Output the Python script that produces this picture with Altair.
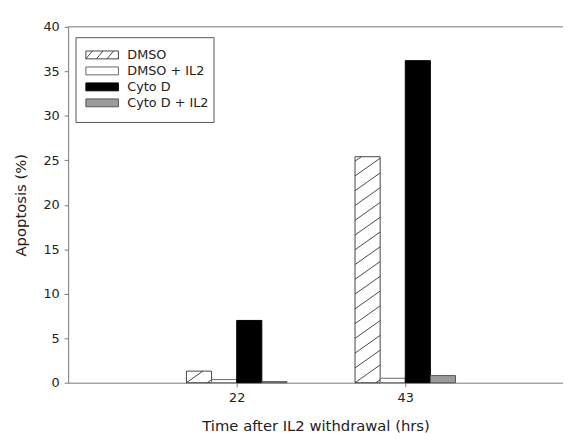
import altair as alt
import numpy as np
import pandas as pd

# ---------------- data ----------------
times = [22, 43]
series = ["DMSO", "DMSO + IL2", "Cyto D", "Cyto D + IL2"]
dmso = [1.3, 25.4]
dmso_il2 = [0.35, 0.5]
cytod = [7.0, 36.2]
cytod_il2 = [0.12, 0.8]

fills = ["#ffffff", "#ffffff", "#000000", "#9b9b9b"]
strokes = ["#444444", "#666666", "#000000", "#555555"]

x_title = "Time after IL2 withdrawal (hrs)"
y_title = "Apoptosis (%)"
y_ticks = [0, 5, 10, 15, 20, 25, 30, 35, 40]

# ---------------- style / layout ----------------
W, H = 502, 361
FONT = "DejaVu Sans"
BW = 3.13            # bar width in hours
HATCH_RISE = 2.0     # rise of a hatch line across one bar (in % units)
HATCH_STEP = 1.66    # vertical distance between hatch lines (in % units)


def hatch(x0, x1, y0, y1, rise, step):
    """Diagonal hatch segments clipped to the rectangle [x0,x1]x[y0,y1]."""
    segs = []
    k_lo = int(np.ceil(-rise / step))
    k_hi = int(np.floor((y1 - y0) / step))
    for k in range(k_lo, k_hi + 1):
        b = y0 + k * step
        t_lo = max(0.0, (y0 - b) / rise)
        t_hi = min(1.0, (y1 - b) / rise)
        if t_hi > t_lo:
            segs.append((x0 + t_lo * (x1 - x0), b + rise * t_lo,
                         x0 + t_hi * (x1 - x0), b + rise * t_hi))
    return segs


# bars table
rows = []
for si, (name, vals) in enumerate(zip(series, [dmso, dmso_il2, cytod, cytod_il2])):
    for t, v in zip(times, vals):
        x0 = t + (si - 2) * BW
        rows.append({"time": t, "series": name, "value": v, "x0": x0, "x1": x0 + BW})
bars_df = pd.DataFrame(rows)

# hatch for DMSO bars
hrows = []
for t, v in zip(times, dmso):
    x0 = t - 2 * BW
    for (a, b, c, d) in hatch(x0, x0 + BW, 0.0, v, HATCH_RISE, HATCH_STEP):
        hrows.append({"hx0": a, "hy0": b, "hx1": c, "hy1": d})
hatch_df = pd.DataFrame(hrows)

# manual legend (pixel positions inside the plot area)
LEG_X0, LEG_X1, LEG_Y0, LEG_Y1 = 8, 148, 11, 97
SYM_X0, SYM_X1, SYM_H = 18, 51, 8
ROW0, ROW_STEP = 28.5, 16.2
TXT_X = 60
leg_rows = []
for i, name in enumerate(series):
    c = ROW0 + i * ROW_STEP
    leg_rows.append({"series": name, "lx0": SYM_X0, "lx1": SYM_X1,
                     "ly0": c - SYM_H / 2, "ly1": c + SYM_H / 2, "lyc": c})
leg_df = pd.DataFrame(leg_rows)

lh_rows = []
c0 = leg_df.loc[0]
for (a, b, c, d) in hatch(SYM_X0, SYM_X1, -c0["ly1"], -c0["ly0"], 40.0, 13.0):
    lh_rows.append({"hx0": a, "hy0": -b, "hx1": c, "hy1": -d})
leg_hatch_df = pd.DataFrame(lh_rows)

one = pd.DataFrame({"k": [0]})

# ---------------- scales ----------------
xs = alt.Scale(domain=[1, 62.65], nice=False, zero=False)
ys = alt.Scale(domain=[0, 40], nice=False)
fill_scale = alt.Scale(domain=series, range=fills)
stroke_scale = alt.Scale(domain=series, range=strokes)

bars = alt.Chart(bars_df).mark_rect(strokeWidth=1).encode(
    x=alt.X("x0:Q", scale=xs,
            axis=alt.Axis(values=times, title=x_title, labelPadding=5, titlePadding=14)),
    x2="x1:Q",
    y=alt.Y("value:Q", scale=ys,
            axis=alt.Axis(values=y_ticks, title=y_title, labelPadding=5, titlePadding=15)),
    y2=alt.datum(0),
    fill=alt.Fill("series:N", scale=fill_scale, legend=None),
    stroke=alt.Stroke("series:N", scale=stroke_scale, legend=None),
)

hatch_lines = alt.Chart(hatch_df).mark_rule(color="#333333", strokeWidth=0.9).encode(
    x=alt.X("hx0:Q", scale=xs), x2="hx1:Q",
    y=alt.Y("hy0:Q", scale=ys), y2="hy1:Q",
)

top_line = alt.Chart(one).mark_rule(color="#777777", strokeWidth=1).encode(
    x=alt.value(0), x2=alt.value(W), y=alt.value(0)
)

leg_frame = alt.Chart(one).mark_rect(fill="white", stroke="#555555", strokeWidth=1).encode(
    x=alt.value(LEG_X0), x2=alt.value(LEG_X1), y=alt.value(LEG_Y0), y2=alt.value(LEG_Y1)
)

leg_sym = alt.Chart(leg_df).mark_rect(strokeWidth=1).encode(
    x=alt.X("lx0:Q", scale=None, axis=None), x2="lx1:Q",
    y=alt.Y("ly0:Q", scale=None, axis=None), y2="ly1:Q",
    fill=alt.Fill("series:N", scale=fill_scale, legend=None),
    stroke=alt.Stroke("series:N", scale=stroke_scale, legend=None),
)

leg_hatch = alt.Chart(leg_hatch_df).mark_rule(color="#333333", strokeWidth=0.9).encode(
    x=alt.X("hx0:Q", scale=None, axis=None), x2="hx1:Q",
    y=alt.Y("hy0:Q", scale=None, axis=None), y2="hy1:Q",
)

leg_text = alt.Chart(leg_df).mark_text(
    align="left", baseline="middle", font=FONT, fontSize=13, color="#222222"
).encode(
    x=alt.value(TXT_X),
    y=alt.Y("lyc:Q", scale=None, axis=None),
    text="series:N",
)

chart = alt.layer(
    bars, hatch_lines, top_line, leg_frame, leg_sym, leg_hatch, leg_text
).properties(
    width=W, height=H,
    autosize=alt.AutoSizeParams(type="none"),
    padding={"left": 61, "top": 16, "right": 0, "bottom": 54},
    background="white",
).configure_view(
    stroke=None
).configure_axis(
    grid=False,
    domainColor="#777777",
    tickColor="#777777",
    tickSize=4,
    labelFont=FONT,
    labelFontSize=13,
    labelColor="#222222",
    titleFont=FONT,
    titleFontSize=15,
    titleFontWeight="normal",
    titleColor="#222222",
)

chart.save("out.html", embed_options={"renderer": "svg", "actions": False})
